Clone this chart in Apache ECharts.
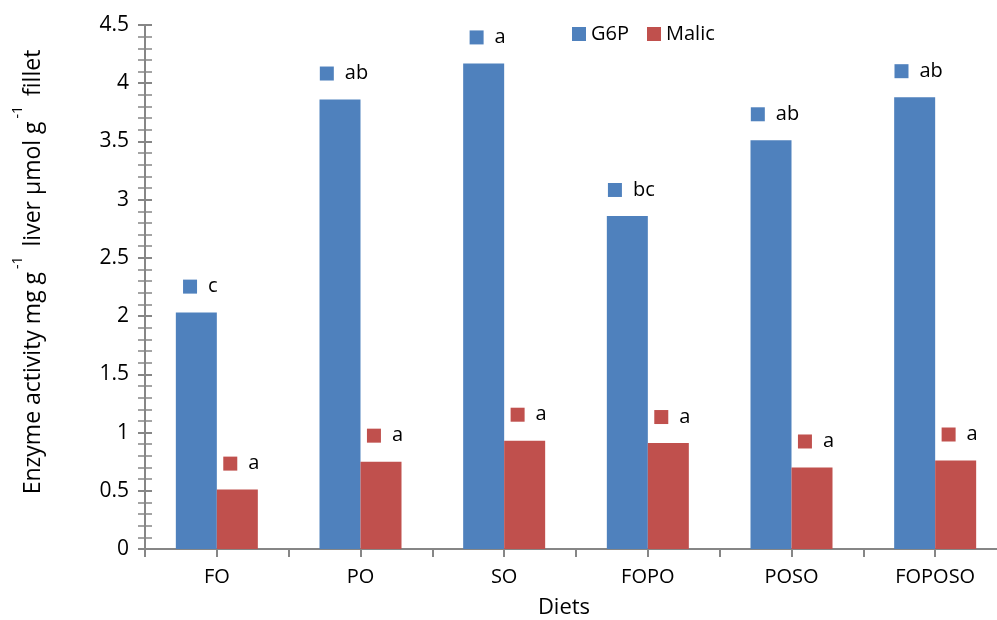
<!DOCTYPE html>
<html>
<head>
<meta charset="utf-8">
<script src="https://cdn.jsdelivr.net/npm/echarts@6/dist/echarts.min.js"></script>
<style>
  html, body { margin: 0; padding: 0; background: #fff; }
  #chart { width: 997px; height: 620px; }
</style>
</head>
<body>
<div id="chart"></div>
<script>
const diets = ['FO', 'PO', 'SO', 'FOPO', 'POSO', 'FOPOSO'];
const g6p = [2.03, 3.86, 4.17, 2.86, 3.51, 3.88];
const malic = [0.51, 0.75, 0.93, 0.91, 0.70, 0.76];
const g6pLetters = ['c', 'ab', 'a', 'bc', 'ab', 'ab'];
const malicLetters = ['a', 'a', 'a', 'a', 'a', 'a'];

const font = 'Open Sans';
const axisGrey = '#868686';
const colors = ['#4F81BD', '#C0504D'];

function letterLabel(letters, color) {
  return {
    show: true,
    position: 'top',
    distance: 16,
    offset: [4, 0],
    formatter: (p) => '{sq| }{g| }{t|' + letters[p.dataIndex] + '}',
    rich: {
      sq: { width: 14, height: 14, backgroundColor: color },
      g: { width: 11 },
      t: { fontFamily: font, fontSize: 20, color: '#000', lineHeight: 20 },
    },
  };
}

const chart = echarts.init(document.getElementById('chart'));
chart.setOption({
  animation: false,
  textStyle: { fontFamily: font },
  legend: {
    top: 19,
    left: 567,
    itemWidth: 14,
    itemHeight: 14,
    itemGap: 18,
    icon: 'rect',
    textStyle: { fontSize: 20, color: '#000' },
    data: ['G6P', 'Malic'],
  },
  grid: { left: 145, right: -10, top: 25, bottom: 71, outerBoundsMode: 'none' },
  xAxis: [
    {
      type: 'category',
      data: diets,
      name: 'Diets',
      nameLocation: 'middle',
      nameGap: 48,
      nameTextStyle: { fontSize: 22, color: '#000', fontFamily: font, padding: [0, 24, 0, 0] },
      axisLine: { lineStyle: { color: axisGrey, width: 2 } },
      axisTick: { show: true, length: 8, lineStyle: { color: axisGrey, width: 2 } },
      axisLabel: { fontSize: 20, color: '#000', margin: 18 },
    },
    {
      type: 'category',
      data: diets,
      position: 'bottom',
      axisLine: { show: false },
      axisTick: { show: true, alignWithLabel: true, length: 8, lineStyle: { color: axisGrey, width: 2 } },
      axisLabel: { show: false },
    },
  ],
  yAxis: [
    {
      type: 'value',
      min: 0,
      max: 4.5,
      interval: 0.5,
      name: '{m|Enzyme activity mg g}{s|-1}{m| liver µmol g}{s|-1}{m| fillet}',
      nameLocation: 'middle',
      nameGap: 100,
      nameRotate: 90,
      nameTextStyle: {
        padding: [0, 0, 0, 30],
        rich: {
          m: { fontFamily: font, fontSize: 23, color: '#000', lineHeight: 34, verticalAlign: 'bottom' },
          s: { fontFamily: font, fontSize: 14, color: '#000', lineHeight: 34, verticalAlign: 'top', padding: [0, 4, 0, 3] },
        },
      },
      axisLine: { show: true, lineStyle: { color: axisGrey, width: 2 } },
      axisTick: { show: true, length: 7, lineStyle: { color: axisGrey, width: 2 } },
      minorTick: { show: true, splitNumber: 5, length: 7, lineStyle: { color: axisGrey, width: 1.5 } },
      splitLine: { show: false },
      axisLabel: { fontSize: 21, color: '#000', margin: 16 },
    },
    {
      type: 'value',
      min: 0,
      max: 4.5,
      interval: 0.5,
      position: 'left',
      axisLine: { show: false },
      axisTick: { show: true, inside: true, length: 7, lineStyle: { color: axisGrey, width: 2 } },
      minorTick: { show: true, splitNumber: 5, length: 7, lineStyle: { color: axisGrey, width: 1.5 } },
      splitLine: { show: false },
      axisLabel: { show: false },
    },
  ],
  series: [
    {
      name: 'G6P',
      type: 'bar',
      data: g6p,
      barWidth: 41,
      barGap: '0%',
      itemStyle: { color: colors[0] },
      label: letterLabel(g6pLetters, colors[0]),
    },
    {
      name: 'Malic',
      type: 'bar',
      data: malic,
      barWidth: 41,
      itemStyle: { color: colors[1] },
      label: letterLabel(malicLetters, colors[1]),
    },
  ],
});
</script>
</body>
</html>
